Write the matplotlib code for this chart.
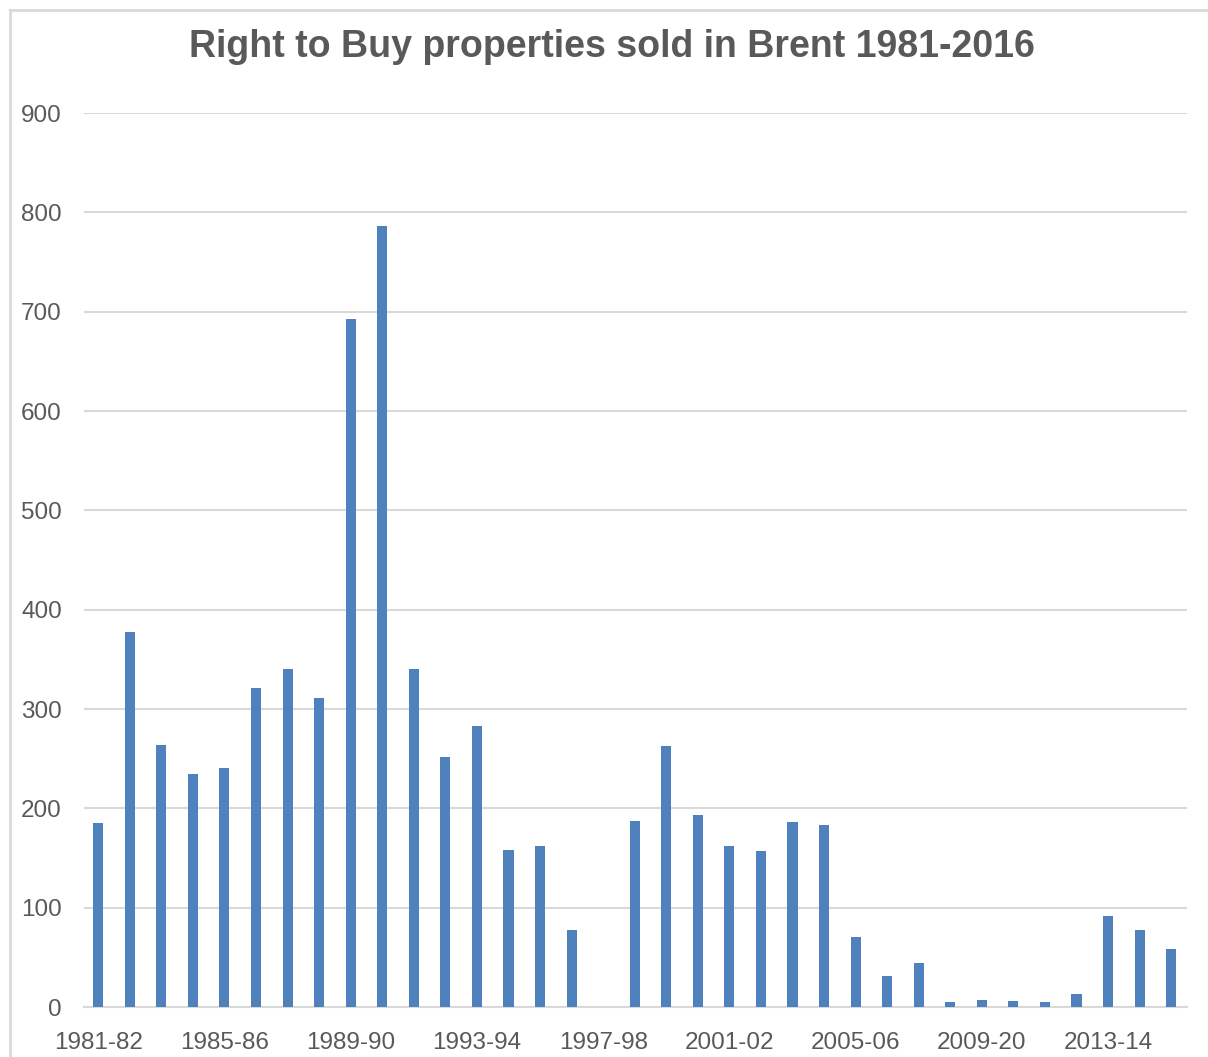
import matplotlib.pyplot as plt
from matplotlib.lines import Line2D

years = ['1981-82', '1982-83', '1983-84', '1984-85', '1985-86', '1986-87', '1987-88',
         '1988-89', '1989-90', '1990-91', '1991-92', '1992-93', '1993-94', '1994-95',
         '1995-96', '1996-97', '1997-98', '1998-99', '1999-00', '2000-01', '2001-02',
         '2002-03', '2003-04', '2004-05', '2005-06', '2006-07', '2007-08', '2008-09',
         '2009-20', '2010-11', '2011-12', '2012-13', '2013-14', '2014-15', '2015-16']
sold = [185, 378, 264, 235, 241, 321, 340, 311, 693, 786, 340, 252, 283, 158,
        162, 78, 0, 187, 263, 193, 162, 157, 186, 183, 70, 31, 44, 5, 7, 6, 5, 13,
        92, 78, 58]
yticks = [0, 100, 200, 300, 400, 500, 600, 700, 800, 900]

plt.rcParams['font.family'] = ['Liberation Sans', 'DejaVu Sans']
grey = '#595959'

fig = plt.figure(figsize=(12.08, 10.57), dpi=100)
ax = fig.add_axes([84 / 1208, 1 - 1007 / 1057, 1103 / 1208, 894 / 1057])

x = list(range(len(years)))
ax.bar(x, sold, width=0.32, color='#4f81bd', zorder=3)

ax.set_ylim(0, 900)
ax.set_xlim(-0.45, 34.5)
ax.set_yticks(yticks)
ax.set_xticks(x[::4])
ax.set_xticklabels(years[::4])
ax.grid(axis='y', color='#d9d9d9', linewidth=1.5, zorder=0)
for s in ['top', 'right', 'left']:
    ax.spines[s].set_visible(False)
ax.spines['bottom'].set_color('#d9d9d9')
ax.spines['bottom'].set_linewidth(1.5)
ax.tick_params(axis='both', length=0, labelsize=17.5, labelcolor=grey)
ax.tick_params(axis='y', pad=16)
ax.tick_params(axis='x', pad=18)

fig.text(612 / 1208, 1 - 47 / 1057, 'Right to Buy properties sold in Brent 1981-2016',
         ha='center', va='center', fontsize=27, fontweight='bold', color=grey)

# outer chart frame
fig.add_artist(Line2D([10 / 1208, 10 / 1208], [0, 1 - 10 / 1057], transform=fig.transFigure,
                      color='#d9d9d9', linewidth=2))
fig.add_artist(Line2D([10 / 1208, 1], [1 - 10 / 1057, 1 - 10 / 1057], transform=fig.transFigure,
                      color='#d9d9d9', linewidth=2))

fig.savefig('out.png', dpi=100)
